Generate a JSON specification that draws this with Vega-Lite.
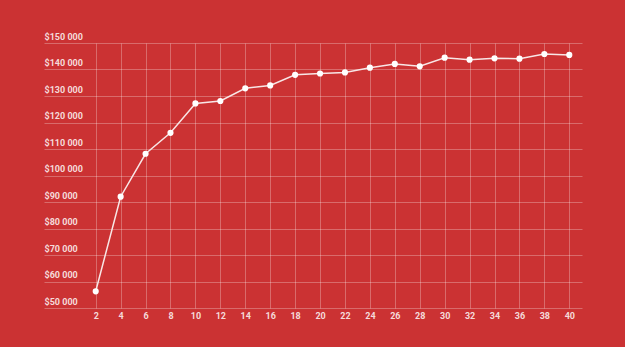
{
  "$schema": "https://vega.github.io/schema/vega-lite/v6.json",
  "autosize": "none",
  "width": 538,
  "height": 265,
  "padding": {"left": 44, "top": 43, "right": 43, "bottom": 39},
  "background": "#CB3233",
  "config": {
    "view": {"stroke": null},
    "font": "Roboto"
  },
  "data": {
    "values": [
      {"years": 2, "salary": 56300},
      {"years": 4, "salary": 92000},
      {"years": 6, "salary": 108200},
      {"years": 8, "salary": 116100},
      {"years": 10, "salary": 127200},
      {"years": 12, "salary": 128100},
      {"years": 14, "salary": 132900},
      {"years": 16, "salary": 134000},
      {"years": 18, "salary": 138000},
      {"years": 20, "salary": 138500},
      {"years": 22, "salary": 138900},
      {"years": 24, "salary": 140700},
      {"years": 26, "salary": 142100},
      {"years": 28, "salary": 141200},
      {"years": 30, "salary": 144450},
      {"years": 32, "salary": 143700},
      {"years": 34, "salary": 144200},
      {"years": 36, "salary": 144100},
      {"years": 38, "salary": 145850},
      {"years": 40, "salary": 145500}
    ]
  },
  "encoding": {
    "x": {
      "field": "years",
      "type": "quantitative",
      "scale": {"domain": [-2.15, 41.02], "nice": false, "zero": false},
      "axis": {
        "values": [2,4,6,8,10,12,14,16,18,20,22,24,26,28,30,32,34,36,38,40],
        "title": null,
        "domain": false,
        "ticks": false,
        "labelPadding": 3,
        "labelColor": "#F5DADA",
        "labelFontSize": 9,
        "labelFontWeight": "bold",
        "grid": true,
        "gridColor": "#ffffff",
        "gridOpacity": 0.28,
        "gridWidth": 1
      }
    },
    "y": {
      "field": "salary",
      "type": "quantitative",
      "scale": {"domain": [50000, 150000], "nice": false, "zero": false},
      "axis": {
        "values": [50000,60000,70000,80000,90000,100000,110000,120000,130000,140000,150000],
        "format": "$,d",
        "labelExpr": "replace(datum.label, ',', ' ')",
        "title": null,
        "domain": false,
        "ticks": false,
        "labelAlign": "left",
        "labelBaseline": "bottom",
        "labelPadding": 0,
        "labelOffset": -2,
        "labelColor": "#F5DADA",
        "labelFontSize": 9,
        "labelFontWeight": "bold",
        "grid": true,
        "gridColor": "#ffffff",
        "gridOpacity": 0.28,
        "gridWidth": 1
      }
    }
  },
  "layer": [
    {"mark": {"type": "line", "color": "#F8E6E6", "strokeWidth": 1.5}},
    {"mark": {"type": "point", "filled": true, "color": "#ffffff", "opacity": 1, "size": 38}}
  ]
}
